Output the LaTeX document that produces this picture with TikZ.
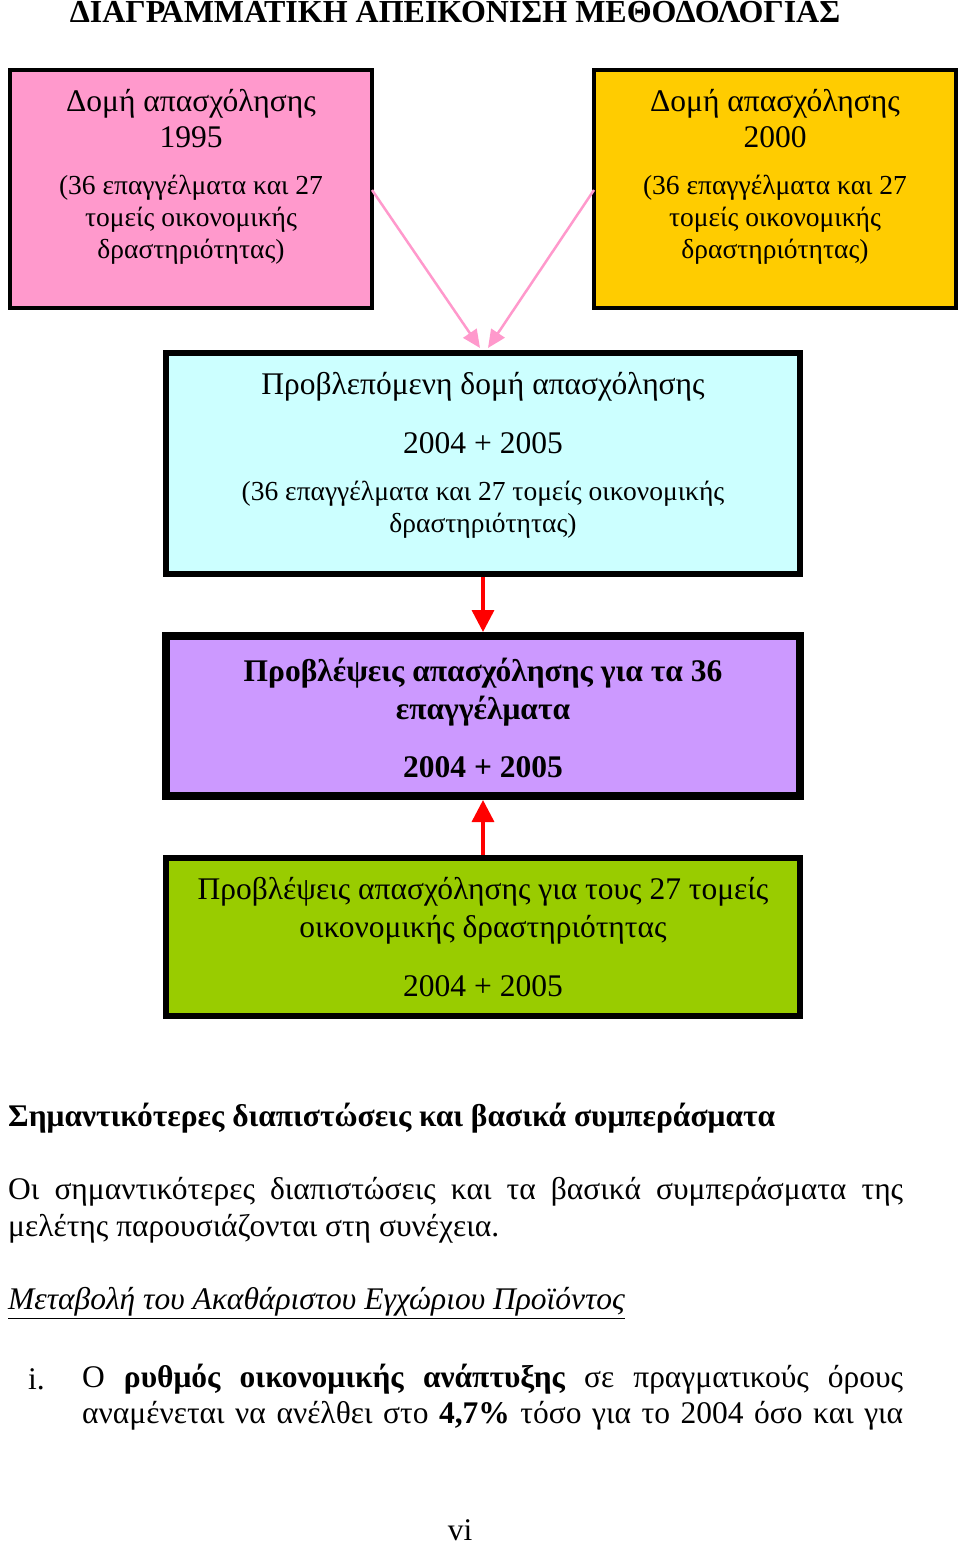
\documentclass[tikz,border=0pt]{standalone}
\usepackage{fontspec}
\setmainfont{Liberation Serif}
\usetikzlibrary{arrows.meta}
\definecolor{pinkf}{HTML}{FF99CC}
\definecolor{yelf}{HTML}{FFCC00}
\definecolor{cyanf}{HTML}{CCFFFF}
\definecolor{purpf}{HTML}{CC99FF}
\definecolor{greenf}{HTML}{99CC00}
\definecolor{pinka}{HTML}{FF99CC}
\tikzset{
 boxa/.style={draw=black,line width=4pt,inner sep=0},
 big/.style={font=\fontsize{31.5}{36}\selectfont,align=center},
 sm/.style={font=\fontsize{27.5}{32}\selectfont,align=center},
 body/.style={font=\fontsize{31.5}{37}\selectfont,anchor=west,inner sep=0},
 pinkarrow/.style={draw=pinka,line width=2.5pt,-{Triangle[length=18pt,width=16pt]}},
 redarrow/.style={draw=red,line width=3.5pt,-{Triangle[length=22pt,width=22pt]}}
}
\begin{document}
\begin{tikzpicture}[x=1pt,y=-1pt]
\useasboundingbox (0,0) rectangle (960,1546);
\node[font=\fontsize{32}{36}\selectfont\bfseries] (title) at (455,12) {ΔΙΑΓΡΑΜΜΑΤΙΚΗ ΑΠΕΙΚΟΝΙΣΗ ΜΕΘΟΔΟΛΟΓΙΑΣ};
\draw[boxa,fill=pinkf] (10,70) rectangle (372,308);
\coordinate (b1) at (372,190);
\node[big] (t1) at (191,119) {Δομή απασχόλησης\\1995};
\node[sm] (s1) at (191,220) {(36 επαγγέλματα και 27\\τομείς οικονομικής\\δραστηριότητας)};
\draw[boxa,fill=yelf] (594,70) rectangle (956,308);
\coordinate (b2) at (594,190);
\node[big] (t2) at (775,119) {Δομή απασχόλησης\\2000};
\node[sm] (s2) at (775,220) {(36 επαγγέλματα και 27\\τομείς οικονομικής\\δραστηριότητας)};
\draw[boxa,line width=6pt,fill=cyanf] (166,353) rectangle (800,574);
\node[big] (t3) at (483,387) {Προβλεπόμενη δομή απασχόλησης};
\node[big] (y3) at (483,443) {2004 + 2005};
\node[sm] (s3) at (483,510) {(36 επαγγέλματα και 27 τομείς οικονομικής\\δραστηριότητας)};
\coordinate (c3) at (483,577);
\draw[boxa,line width=8pt,fill=purpf] (166,636) rectangle (800,796);
\node[big,font=\fontsize{31.5}{38}\selectfont\bfseries] (t4) at (483,692) {Προβλέψεις απασχόλησης για τα 36\\επαγγέλματα};
\node[big,font=\fontsize{31.5}{36}\selectfont\bfseries] (y4) at (483,767) {2004 + 2005};
\coordinate (c4t) at (483,632);
\coordinate (c4b) at (483,800);
\draw[boxa,line width=6pt,fill=greenf] (166,858) rectangle (800,1016);
\node[big,font=\fontsize{31.5}{38}\selectfont] (t5) at (483,911) {Προβλέψεις απασχόλησης για τους 27 τομείς\\οικονομικής δραστηριότητας};
\node[big] (y5) at (483,986) {2004 + 2005};
\coordinate (c5) at (483,855);
\coordinate (m1) at (480,348);
\coordinate (m2) at (488,348);
\draw[pinkarrow] (b1) -- (m1);
\draw[pinkarrow] (b2) -- (m2);
\draw[redarrow] (c3) -- (c4t);
\draw[redarrow] (c5) -- (c4b);
\node[body,font=\fontsize{31.5}{37}\selectfont\bfseries] (h1) at (8,1118) {Σημαντικότερες διαπιστώσεις και βασικά συμπεράσματα};
\node[body,text width=895pt,align=justify] (p1) at (8,1192) {\parfillskip=0pt Οι σημαντικότερες διαπιστώσεις και τα βασικά συμπεράσματα της\par};
\node[body] (p2) at (8,1229) {μελέτης παρουσιάζονται στη συνέχεια.};
\node[body] (h2) at (8,1303) {\itshape\underline{Μεταβολή του Ακαθάριστου Εγχώριου Προϊόντος}};
\node[body] (i1) at (28,1379) {i.};
\node[body,text width=821pt,align=justify] (q1) at (82,1379) {\parfillskip=0pt Ο \textbf{ρυθμός} \textbf{οικονομικής} \textbf{ανάπτυξης} σε πραγματικούς όρους\par};
\node[body,text width=821pt,align=justify] (q2) at (82,1416) {\parfillskip=0pt αναμένεται να ανέλθει στο \textbf{4,7\%} τόσο για το 2004 όσο και για\par};
\node[body,anchor=center] (pg) at (460,1530) {vi};
\end{tikzpicture}
\end{document}
